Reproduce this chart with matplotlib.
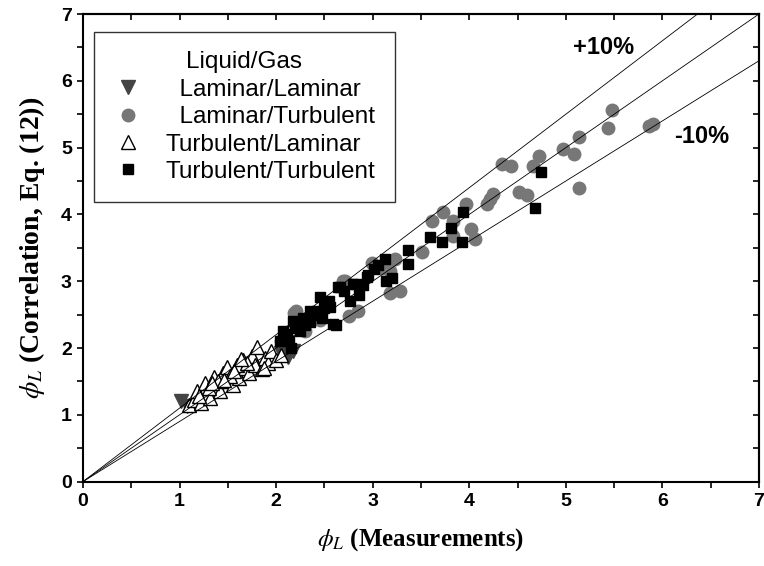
import matplotlib
matplotlib.use("Agg")
import matplotlib.pyplot as plt
import numpy as np
from matplotlib.ticker import MultipleLocator

# Laminar/Laminar (liquid/gas)
ll_x = [1.02, 1.08, 2.05, 2.12, 2.18]
ll_y = [1.20, 1.13, 1.92, 1.87, 1.95]

# Laminar/Turbulent
lt_x = [5.48, 5.44, 5.86, 5.90, 5.14, 4.97, 5.08, 4.72, 4.66, 4.34, 4.43, 4.52,
        4.60, 5.14, 4.25, 4.22, 4.18, 3.97, 3.73, 3.61, 3.83, 4.02, 4.06, 3.83,
        3.51, 3.23, 3.18, 3.18, 3.28, 2.99, 2.69, 2.71, 2.19, 2.21, 2.75, 2.85,
        3.10, 2.45, 2.05, 2.30]
lt_y = [5.56, 5.30, 5.32, 5.35, 5.16, 4.98, 4.91, 4.88, 4.73, 4.75, 4.72, 4.34,
        4.29, 4.40, 4.30, 4.23, 4.15, 4.16, 4.03, 3.90, 3.90, 3.78, 3.63, 3.68,
        3.43, 3.33, 3.16, 2.83, 2.86, 3.28, 3.01, 3.01, 2.53, 2.56, 2.48, 2.55,
        3.20, 2.42, 2.10, 2.25]

# Turbulent/Laminar
tl_x = [1.10, 1.15, 1.18, 1.22, 1.26, 1.28, 1.32, 1.36, 1.38, 1.42, 1.45, 1.49,
        1.50, 1.55, 1.58, 1.62, 1.66, 1.68, 1.72, 1.75, 1.78, 1.80, 1.85, 1.88,
        1.92, 1.95, 2.00, 2.05, 1.60, 1.40, 1.30, 1.70, 1.52, 1.64, 1.87, 1.20,
        1.34, 1.46, 1.56]
tl_y = [1.14, 1.22, 1.35, 1.18, 1.47, 1.30, 1.25, 1.57, 1.42, 1.35, 1.62, 1.72,
        1.50, 1.45, 1.65, 1.55, 1.82, 1.70, 1.62, 1.88, 1.75, 2.02, 1.68, 1.85,
        1.78, 1.95, 1.82, 1.90, 1.75, 1.50, 1.40, 1.78, 1.58, 1.84, 1.70, 1.28,
        1.48, 1.52, 1.66]

# Turbulent/Turbulent
tt_x = [4.74, 4.68, 3.94, 3.81, 3.59, 3.72, 3.93, 3.37, 3.37, 3.13, 3.01, 2.94,
        3.14, 2.83, 2.64, 2.45, 2.66, 2.80, 2.42, 2.56, 2.59, 2.35, 2.25, 2.11,
        2.04, 2.76, 2.07, 2.13, 2.20, 2.30, 2.40, 2.50, 2.35, 2.62, 2.70, 2.90,
        2.95, 3.05, 2.55, 2.15, 2.28, 2.48, 2.86, 3.20, 2.18]
tt_y = [4.64, 4.10, 4.03, 3.80, 3.66, 3.58, 3.58, 3.46, 3.26, 3.34, 3.19, 3.06,
        3.01, 2.96, 2.91, 2.76, 2.91, 2.96, 2.56, 2.61, 2.36, 2.39, 2.26, 2.21,
        2.11, 2.71, 2.26, 2.11, 2.30, 2.35, 2.50, 2.60, 2.55, 2.35, 2.85, 2.95,
        3.10, 3.25, 2.70, 2.00, 2.45, 2.45, 2.80, 3.05, 2.40]

plt.rcParams["font.family"] = "Liberation Sans"
plt.rcParams["mathtext.fontset"] = "stix"

fig = plt.figure(figsize=(7.64, 5.66), dpi=100)
ax = fig.add_axes([0.1086, 0.1491, 0.8848, 0.8261])

ax.plot(lt_x, lt_y, "o", color="#777777", ms=9, mec="#777777", label="  Laminar/Turbulent", zorder=2)
ax.plot(ll_x, ll_y, "v", color="#444444", ms=9.5, mec="#444444", label="  Laminar/Laminar", zorder=3)
ax.plot(tl_x, tl_y, "^", mfc="white", mec="black", mew=1.0, ms=10, label="Turbulent/Laminar", zorder=4)
ax.plot(tt_x, tt_y, "s", color="black", ms=7.5, label="Turbulent/Turbulent", zorder=5)

# reference lines: y = x and +/-10 %
xx = np.array([0, 7])
for k in (1.1, 1.0, 0.9):
    ax.plot(xx, k * xx, color="black", lw=0.6, zorder=6)

ax.text(5.07, 6.5, "+10%", fontsize=17, fontweight="bold", va="center")
ax.text(6.12, 5.16, "-10%", fontsize=17, fontweight="bold", va="center")

ax.set_xlim(0, 7)
ax.set_ylim(0, 7)
ax.xaxis.set_major_locator(MultipleLocator(1))
ax.yaxis.set_major_locator(MultipleLocator(1))
ax.xaxis.set_minor_locator(MultipleLocator(0.5))
ax.yaxis.set_minor_locator(MultipleLocator(0.5))
ax.tick_params(which="both", direction="out", width=1.2, labelsize=14)
ax.tick_params(which="major", length=4.5)
ax.tick_params(which="minor", length=4)
for lab in ax.get_xticklabels() + ax.get_yticklabels():
    lab.set_fontweight("bold")
for s in ax.spines.values():
    s.set_linewidth(1.5)

# inward mirrored ticks on top and right
sx = ax.secondary_xaxis("top")
sy = ax.secondary_yaxis("right")
sx.xaxis.set_major_locator(MultipleLocator(0.5))
sy.yaxis.set_major_locator(MultipleLocator(0.5))
for sec in (sx, sy):
    sec.tick_params(direction="in", length=4.5, width=1.2, labelsize=0)
    sec.spines[:].set_linewidth(1.5)
sx.set_xticklabels([])
sy.set_yticklabels([])

ax.set_xlabel(r"$\phi_L$ (Measurements)", fontsize=18, fontweight="bold",
              family="Liberation Serif", labelpad=12)
ax.set_ylabel(r"$\phi_L$ (Correlation, Eq. (12))", fontsize=20, fontweight="bold",
              family="Liberation Serif", labelpad=10)

handles, labels = ax.get_legend_handles_labels()
order = [1, 0, 2, 3]
leg = ax.legend([handles[i] for i in order], [labels[i] for i in order],
                title="Liquid/Gas", loc="upper left", bbox_to_anchor=(0.0163, 0.9615),
                borderaxespad=0, fontsize=17.5, title_fontsize=17.5, frameon=True,
                fancybox=False, edgecolor="black", handlelength=1.2,
                handletextpad=0.95, labelspacing=0.22, borderpad=0.8)
leg.get_frame().set_linewidth(1.0)

fig.savefig("out.png", dpi=100)
